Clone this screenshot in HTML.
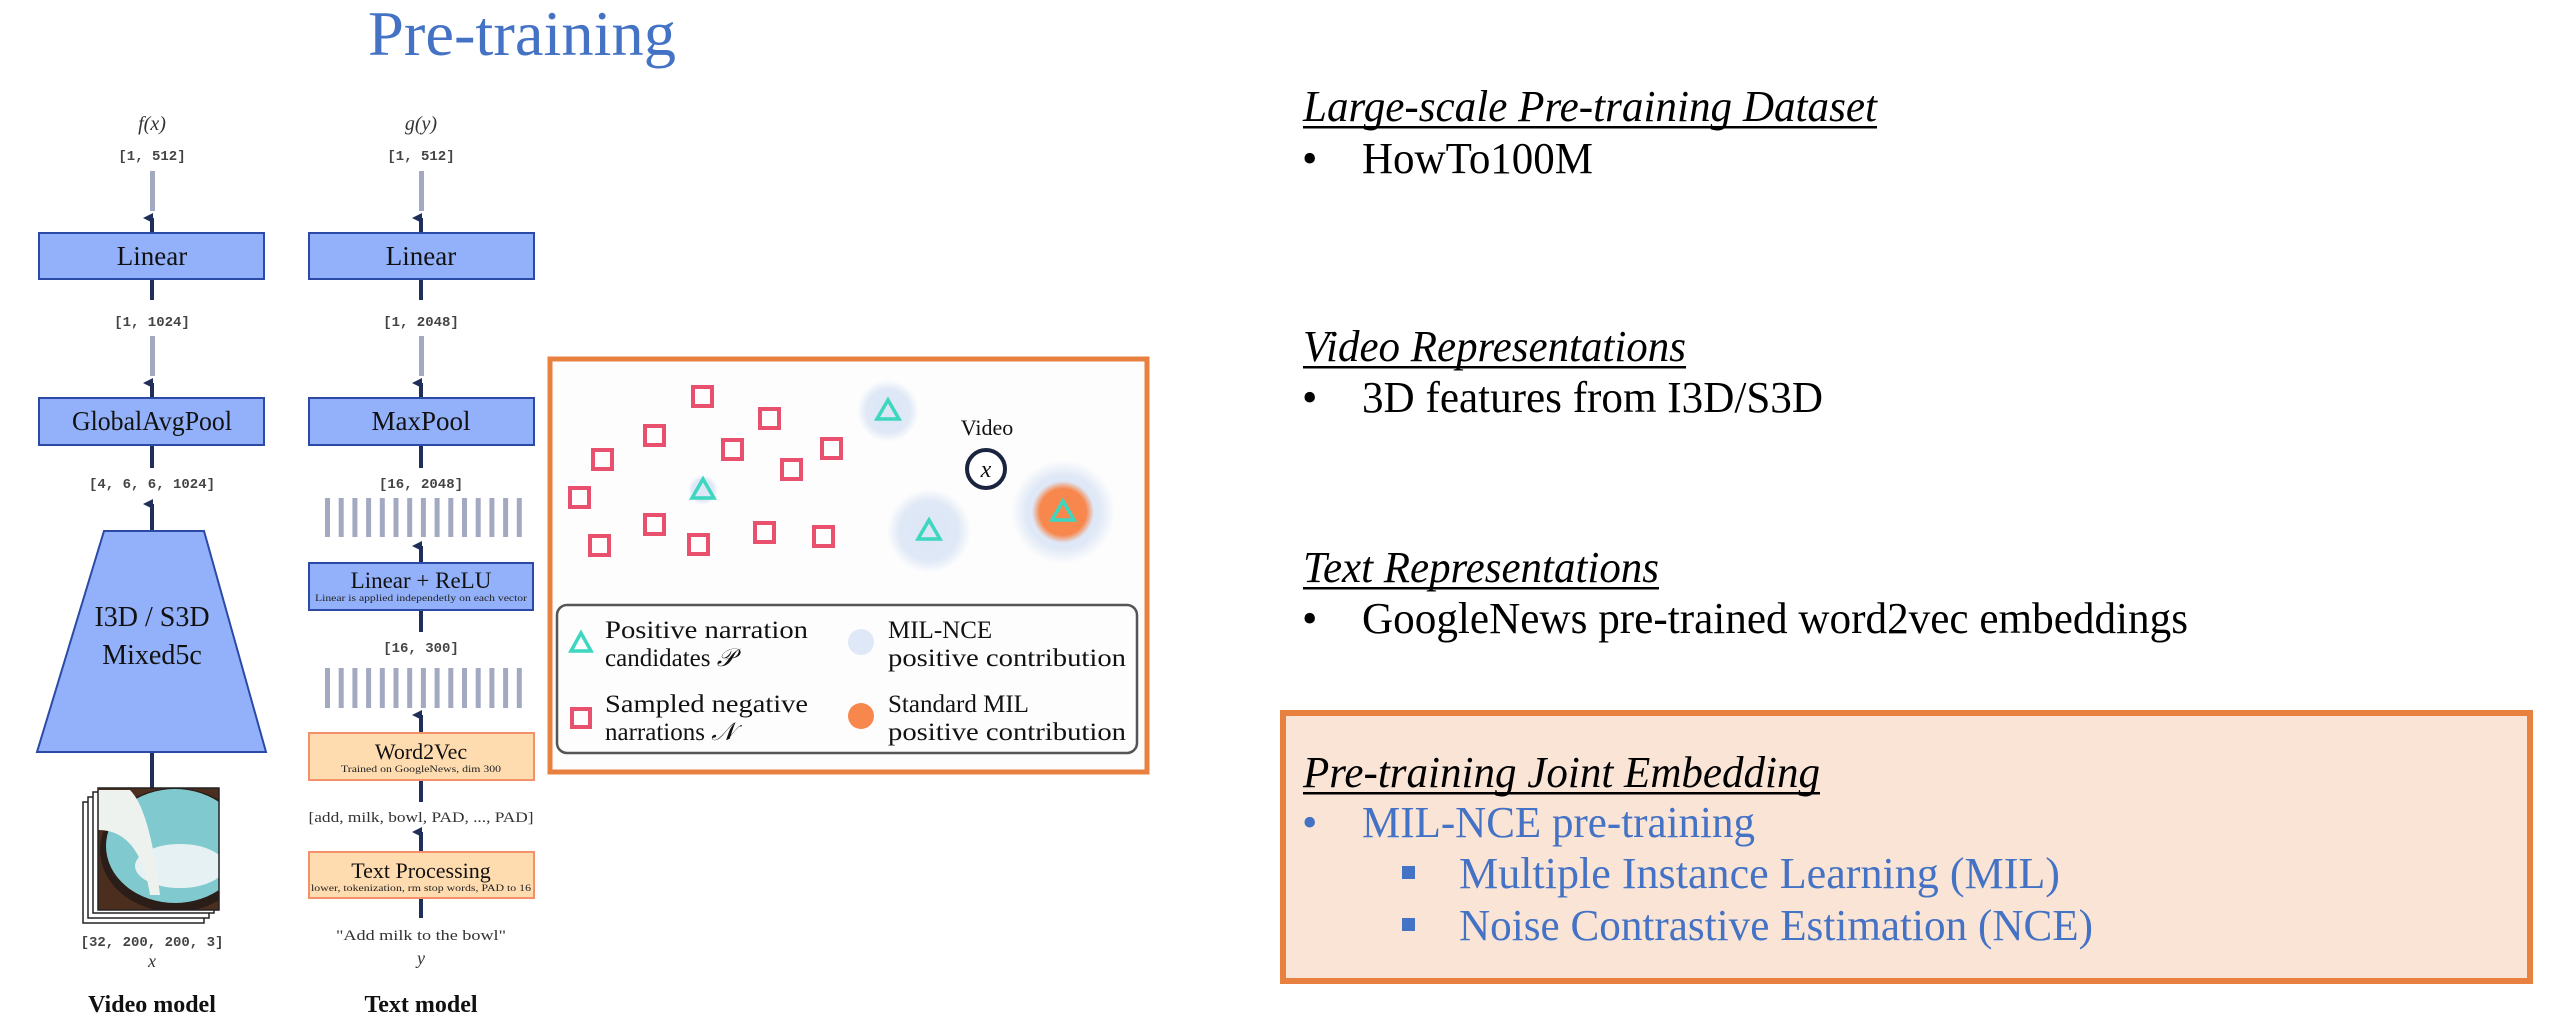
<!DOCTYPE html>
<html><head><meta charset="utf-8"><style>html,body{margin:0;padding:0;background:#fff;}svg{display:block}</style></head>
<body>
<svg width="2560" height="1030" viewBox="0 0 2560 1030" xmlns="http://www.w3.org/2000/svg">
<defs>
<radialGradient id="gb"><stop offset="0" stop-color="#dbe6f6"/><stop offset="0.7" stop-color="#dfe8f6"/><stop offset="1" stop-color="#dfe8f6" stop-opacity="0"/></radialGradient>
<radialGradient id="go"><stop offset="0" stop-color="#f7874c"/><stop offset="0.75" stop-color="#f7874c"/><stop offset="1" stop-color="#f7874c" stop-opacity="0"/></radialGradient>
<marker id="ah" viewBox="0 0 10 10" refX="5" refY="9" markerWidth="10" markerHeight="12" orient="auto" markerUnits="userSpaceOnUse"><path d="M0,10 L5,0 L10,10 Z" fill="#1f2f5a"/></marker>
<clipPath id="imgclip"><rect x="98" y="788" width="121" height="122"/></clipPath>
</defs>
<g font-family="Liberation Serif, serif">
<text x="368" y="55" font-size="64" fill="#4472c4" textLength="308" lengthAdjust="spacingAndGlyphs">Pre-training</text>

<g stroke="#1f2f5a" stroke-width="4" fill="none">
<line x1="152" y1="233" x2="152" y2="218" marker-end="url(#ah)"/>
<line x1="152" y1="398" x2="152" y2="383" marker-end="url(#ah)"/>
<line x1="152" y1="280" x2="152" y2="300"/>
<line x1="152" y1="445" x2="152" y2="468"/>
<line x1="152" y1="531" x2="152" y2="504" marker-end="url(#ah)"/>
<line x1="152" y1="752" x2="152" y2="788"/>
</g>
<g fill="#a4a9c2"><rect x="150" y="171" width="5" height="40"/><rect x="150" y="336" width="5" height="40"/></g>
<text x="152" y="130" font-size="20" font-style="italic" text-anchor="middle" fill="#333">f(x)</text>
<g font-family="Liberation Mono, monospace" font-size="14" font-weight="bold" fill="#444" text-anchor="middle">
<text x="152" y="160">[1, 512]</text>
<text x="152" y="326">[1, 1024]</text>
<text x="152" y="488">[4, 6, 6, 1024]</text>
<text x="152" y="946">[32, 200, 200, 3]</text>
</g>
<rect x="39" y="233" width="225" height="46" fill="#93b1fa" stroke="#2b4aa6" stroke-width="2"/>
<text x="152" y="265" font-size="27" text-anchor="middle" fill="#111">Linear</text>
<rect x="39" y="398" width="225" height="47" fill="#93b1fa" stroke="#2b4aa6" stroke-width="2"/>
<text x="152" y="430" font-size="27" text-anchor="middle" fill="#111" textLength="160" lengthAdjust="spacingAndGlyphs">GlobalAvgPool</text>
<polygon points="104,531 204,531 266,752 37,752" fill="#93b1fa" stroke="#2b4aa6" stroke-width="2"/>
<text x="152" y="626" font-size="28" text-anchor="middle" fill="#111">I3D / S3D</text>
<text x="152" y="664" font-size="28" text-anchor="middle" fill="#111">Mixed5c</text>
<g fill="#fff" stroke="#222" stroke-width="1.5">
<rect x="83" y="802" width="121" height="121"/>
<rect x="88" y="797" width="121" height="121"/>
<rect x="93" y="792" width="121" height="121"/>
</g>
<g clip-path="url(#imgclip)">
<rect x="98" y="788" width="121" height="122" fill="#4b2e1e"/>
<ellipse cx="175" cy="850" rx="75" ry="62" fill="#2b1d17"/>
<ellipse cx="175" cy="846" rx="69" ry="57" fill="#7fc9cf"/>
<ellipse cx="180" cy="866" rx="45" ry="22" fill="#e6f1f3"/>
<path d="M98,790 L130,790 Q150,810 160,895 L150,895 Q140,830 98,830 Z" fill="#eef2ef"/>
</g>
<rect x="98" y="788" width="121" height="122" fill="none" stroke="#222" stroke-width="1.5"/>
<text x="152" y="967" font-size="18" font-style="italic" text-anchor="middle" fill="#333">x</text>
<text x="152" y="1012" font-size="24" font-weight="bold" text-anchor="middle" fill="#111">Video model</text>

<g stroke="#1f2f5a" stroke-width="4" fill="none">
<line x1="421" y1="233" x2="421" y2="218" marker-end="url(#ah)"/>
<line x1="421" y1="398" x2="421" y2="383" marker-end="url(#ah)"/>
<line x1="421" y1="280" x2="421" y2="300"/>
<line x1="421" y1="445" x2="421" y2="468"/>
<line x1="421" y1="563" x2="421" y2="546" marker-end="url(#ah)"/>
<line x1="421" y1="610" x2="421" y2="632"/>
<line x1="421" y1="733" x2="421" y2="715" marker-end="url(#ah)"/>
<line x1="421" y1="780" x2="421" y2="802"/>
<line x1="421" y1="852" x2="421" y2="832" marker-end="url(#ah)"/>
<line x1="421" y1="898" x2="421" y2="918"/>
</g>
<g fill="#a4a9c2"><rect x="419" y="171" width="5" height="40"/><rect x="419" y="336" width="5" height="40"/></g>
<g fill="#a4a9c2">
<rect x="325" y="498" width="5" height="39"/><rect x="338.7" y="498" width="5" height="39"/><rect x="352.4" y="498" width="5" height="39"/><rect x="366.1" y="498" width="5" height="39"/><rect x="379.8" y="498" width="5" height="39"/><rect x="393.5" y="498" width="5" height="39"/><rect x="407.2" y="498" width="5" height="39"/><rect x="420.9" y="498" width="5" height="39"/><rect x="434.6" y="498" width="5" height="39"/><rect x="448.3" y="498" width="5" height="39"/><rect x="462" y="498" width="5" height="39"/><rect x="475.7" y="498" width="5" height="39"/><rect x="489.4" y="498" width="5" height="39"/><rect x="503.1" y="498" width="5" height="39"/><rect x="516.8" y="498" width="5" height="39"/>
<rect x="325" y="668" width="5" height="40"/><rect x="338.7" y="668" width="5" height="40"/><rect x="352.4" y="668" width="5" height="40"/><rect x="366.1" y="668" width="5" height="40"/><rect x="379.8" y="668" width="5" height="40"/><rect x="393.5" y="668" width="5" height="40"/><rect x="407.2" y="668" width="5" height="40"/><rect x="420.9" y="668" width="5" height="40"/><rect x="434.6" y="668" width="5" height="40"/><rect x="448.3" y="668" width="5" height="40"/><rect x="462" y="668" width="5" height="40"/><rect x="475.7" y="668" width="5" height="40"/><rect x="489.4" y="668" width="5" height="40"/><rect x="503.1" y="668" width="5" height="40"/><rect x="516.8" y="668" width="5" height="40"/>
</g>
<text x="421" y="130" font-size="20" font-style="italic" text-anchor="middle" fill="#333">g(y)</text>
<g font-family="Liberation Mono, monospace" font-size="14" font-weight="bold" fill="#444" text-anchor="middle">
<text x="421" y="160">[1, 512]</text>
<text x="421" y="326">[1, 2048]</text>
<text x="421" y="488">[16, 2048]</text>
<text x="421" y="652">[16, 300]</text>
</g>
<text x="421" y="822" font-size="15" text-anchor="middle" fill="#333" textLength="225" lengthAdjust="spacingAndGlyphs">[add, milk, bowl, PAD, ..., PAD]</text>
<text x="421" y="940" font-size="15" text-anchor="middle" fill="#333" textLength="170" lengthAdjust="spacingAndGlyphs">"Add milk to the bowl"</text>
<text x="421" y="964" font-size="18" font-style="italic" text-anchor="middle" fill="#333">y</text>
<rect x="309" y="233" width="225" height="46" fill="#93b1fa" stroke="#2b4aa6" stroke-width="2"/>
<text x="421" y="265" font-size="27" text-anchor="middle" fill="#111">Linear</text>
<rect x="309" y="398" width="225" height="47" fill="#93b1fa" stroke="#2b4aa6" stroke-width="2"/>
<text x="421" y="430" font-size="27" text-anchor="middle" fill="#111">MaxPool</text>
<rect x="309" y="563" width="224" height="47" fill="#93b1fa" stroke="#2b4aa6" stroke-width="2"/>
<text x="421" y="588" font-size="23" text-anchor="middle" fill="#111">Linear + ReLU</text>
<text x="421" y="601" font-size="9.5" text-anchor="middle" fill="#222" textLength="212" lengthAdjust="spacingAndGlyphs">Linear is applied independetly on each vector</text>
<rect x="309" y="733" width="225" height="47" fill="#fedcb0" stroke="#f5916a" stroke-width="2"/>
<text x="421" y="759" font-size="22" text-anchor="middle" fill="#111">Word2Vec</text>
<text x="421" y="772" font-size="9.5" text-anchor="middle" fill="#222" textLength="160" lengthAdjust="spacingAndGlyphs">Trained on GoogleNews, dim 300</text>
<rect x="309" y="852" width="225" height="46" fill="#fedcb0" stroke="#f5916a" stroke-width="2"/>
<text x="421" y="878" font-size="22" text-anchor="middle" fill="#111">Text Processing</text>
<text x="421" y="891" font-size="9.5" text-anchor="middle" fill="#222" textLength="220" lengthAdjust="spacingAndGlyphs">lower, tokenization, rm stop words, PAD to 16</text>
<text x="421" y="1012" font-size="24" font-weight="bold" text-anchor="middle" fill="#111">Text model</text>

<rect x="550" y="359" width="597" height="413" fill="#fdfdfd" stroke="#e8803f" stroke-width="5"/>
<circle cx="888" cy="411" r="31" fill="url(#gb)"/>
<circle cx="703" cy="490" r="15" fill="url(#gb)"/>
<circle cx="929" cy="531" r="42" fill="url(#gb)"/>
<circle cx="1063" cy="512" r="52" fill="url(#gb)"/>
<circle cx="1063" cy="512" r="31" fill="url(#go)"/>
<g fill="none" stroke="#e9506d" stroke-width="4">
<rect x="693" y="387" width="19" height="19"/><rect x="760" y="409" width="19" height="19"/><rect x="645" y="426" width="19" height="19"/><rect x="723" y="440" width="19" height="19"/><rect x="822" y="439" width="19" height="19"/><rect x="593" y="450" width="19" height="19"/><rect x="782" y="460" width="19" height="19"/><rect x="570" y="488" width="19" height="19"/><rect x="645" y="515" width="19" height="19"/><rect x="590" y="536" width="19" height="19"/><rect x="689" y="535" width="19" height="19"/><rect x="755" y="523" width="19" height="19"/><rect x="814" y="527" width="19" height="19"/>
</g>
<g fill="none" stroke="#3dd6be" stroke-width="3.5">
<polygon points="888,400 899,419 877,419"/>
<polygon points="703,479 714,498 692,498"/>
<polygon points="929,520 940,539 918,539"/>
<polygon points="1063,501 1074,520 1052,520"/>
</g>
<text x="987" y="435" font-size="22" text-anchor="middle" fill="#111">Video</text>
<circle cx="986" cy="469" r="19" fill="#fff" stroke="#1a2440" stroke-width="4"/>
<text x="986" y="477" font-size="24" font-style="italic" text-anchor="middle" fill="#111">x</text>
<rect x="557" y="605" width="580" height="148" rx="10" fill="#fdfdfd" stroke="#555" stroke-width="2.5"/>
<polygon points="581,633 591,651 571,651" fill="none" stroke="#3dd6be" stroke-width="3.5"/>
<rect x="572" y="709" width="18" height="18" fill="none" stroke="#e9506d" stroke-width="4"/>
<circle cx="861" cy="642" r="13" fill="#dfe8f6"/>
<circle cx="861" cy="716" r="13" fill="#f7874c"/>
<g font-size="25" fill="#111">
<text x="605" y="638" textLength="203" lengthAdjust="spacingAndGlyphs">Positive narration</text>
<text x="605" y="666">candidates <tspan font-style="italic">𝒫</tspan></text>
<text x="605" y="712" textLength="203" lengthAdjust="spacingAndGlyphs">Sampled negative</text>
<text x="605" y="740">narrations <tspan font-style="italic">𝒩</tspan></text>
<text x="888" y="638">MIL-NCE</text>
<text x="888" y="666" textLength="238" lengthAdjust="spacingAndGlyphs">positive contribution</text>
<text x="888" y="712">Standard MIL</text>
<text x="888" y="740" textLength="238" lengthAdjust="spacingAndGlyphs">positive contribution</text>
</g>

<g font-size="44" fill="#000">
<text x="1303" y="121" font-style="italic" textLength="574" lengthAdjust="spacingAndGlyphs">Large-scale Pre-training Dataset</text>
<rect x="1303" y="126" width="574" height="2.5"/>
<text x="1302" y="173">•</text>
<text x="1362" y="173" textLength="231" lengthAdjust="spacingAndGlyphs">HowTo100M</text>
<text x="1303" y="361" font-style="italic" textLength="383" lengthAdjust="spacingAndGlyphs">Video Representations</text>
<rect x="1303" y="366" width="383" height="2.5"/>
<text x="1302" y="412">•</text>
<text x="1362" y="412" textLength="461" lengthAdjust="spacingAndGlyphs">3D features from I3D/S3D</text>
<text x="1303" y="582" font-style="italic" textLength="356" lengthAdjust="spacingAndGlyphs">Text Representations</text>
<rect x="1303" y="587" width="356" height="2.5"/>
<text x="1302" y="633">•</text>
<text x="1362" y="633" textLength="826" lengthAdjust="spacingAndGlyphs">GoogleNews pre-trained word2vec embeddings</text>
</g>
<rect x="1283" y="713" width="1247" height="268" fill="#fae4d6" stroke="#e8803f" stroke-width="6"/>
<g font-size="44">
<text x="1303" y="787" font-style="italic" fill="#000" textLength="517" lengthAdjust="spacingAndGlyphs">Pre-training Joint Embedding</text>
<rect x="1303" y="792" width="517" height="2.5" fill="#000"/>
<text x="1302" y="837" fill="#4472c4">•</text>
<text x="1362" y="837" fill="#4472c4" textLength="393" lengthAdjust="spacingAndGlyphs">MIL-NCE pre-training</text>
<rect x="1402" y="866" width="13" height="13" fill="#4472c4"/>
<text x="1459" y="888" fill="#4472c4" textLength="601" lengthAdjust="spacingAndGlyphs">Multiple Instance Learning  (MIL)</text>
<rect x="1402" y="918" width="13" height="13" fill="#4472c4"/>
<text x="1459" y="940" fill="#4472c4" textLength="634" lengthAdjust="spacingAndGlyphs">Noise Contrastive Estimation (NCE)</text>
</g>
</g>
</svg>
</body></html>
